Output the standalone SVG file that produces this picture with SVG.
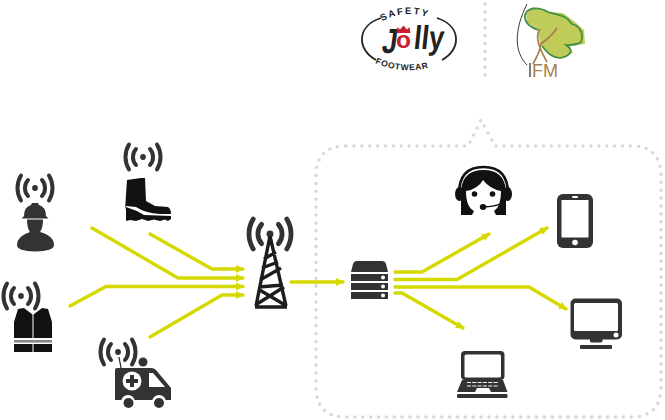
<svg xmlns="http://www.w3.org/2000/svg" width="665" height="420" viewBox="0 0 665 420">
<style>
.dots{fill:none;stroke:#d9d9d9;stroke-width:3.6;stroke-linecap:round;stroke-dasharray:0 7.9}
.link{fill:none;stroke:#d6d900;stroke-width:3.4;stroke-linecap:round;stroke-linejoin:round}
.dark{fill:#333}
.blk{fill:#111}
.wh{fill:#fff}
.sig{fill:none;stroke:#333;stroke-linecap:round}
.logo{font-family:"Liberation Sans",Arial,sans-serif;font-weight:700;fill:#222}
</style>
<defs>
<marker id="a" markerUnits="userSpaceOnUse" markerWidth="9" markerHeight="9" refX="7" refY="4.5" orient="auto"><path d="M0,0.5L8,4.500L0,8.500z" fill="#d6d900"/></marker>
<g id="signal">
<circle r="2.9" fill="#333"/>
<path class="sig" stroke-width="4" d="M-7,-8A12,12 0 0 0 -7,8M7,-8A12,12 0 0 1 7,8"/>
<path class="sig" stroke-width="4" d="M-14,-12.500A24,24 0 0 0 -14,12.500M14,-12.500A24,24 0 0 1 14,12.500"/>
</g>
</defs>
<g id="frame">
<path class="dots" d="M485,4V80"/>
<path class="dots" d="M346,146H468L481,120L495,146H631Q661,146 661,176V387Q661,417 631,417H346Q316,417 316,387V176Q316,146 346,146Z"/>
</g>
<g id="connectors">
<path class="link" marker-end="url(#a)" d="M150,234L212,269H243"/>
<path class="link" marker-end="url(#a)" d="M92,228L178,278H243"/>
<path class="link" marker-end="url(#a)" d="M70,306L106,286.500H243"/>
<path class="link" marker-end="url(#a)" d="M150,337L222,295H243"/>
<path class="link" marker-end="url(#a)" d="M291,282H343"/>
<path class="link" marker-end="url(#a)" d="M395,272H422L489,234"/>
<path class="link" marker-end="url(#a)" d="M395,279.500H457L547,228"/>
<path class="link" marker-end="url(#a)" d="M395,287H529L566,309"/>
<path class="link" marker-end="url(#a)" d="M395,293H402L463,328"/>
</g>
<g id="logo-jolly">
<path d="M381,18C356,26 357,50 376,60M437,18C462,26 461,50 442,60" fill="none" stroke="#222" stroke-width="1.800"/>
<path id="jt" d="M381,22Q409,6 438,22" fill="none"/>
<path id="jb" d="M375,63Q409,78 446,62" fill="none"/>
<text class="logo" font-size="9.500" letter-spacing="1.800"><textPath href="#jt" startOffset="1">SAFETY</textPath></text>
<text class="logo" font-size="8.500" letter-spacing="0.700"><textPath href="#jb" startOffset="0">FOOTWEAR</textPath></text>
<text transform="translate(381,53) skewX(-8)" font-family="'Liberation Sans',sans-serif" font-weight="700" font-size="35" textLength="15" lengthAdjust="spacingAndGlyphs" fill="#222">J</text>
<text x="396" y="48" font-family="'Liberation Sans',sans-serif" font-weight="700" font-size="24" textLength="15" lengthAdjust="spacingAndGlyphs" fill="#c8202c">o</text>
<path d="M396.500,33l1,-6l2.500,2.500l3.500,-4l3.500,4l2.500,-2.500l1,6z" fill="#c8202c"/>
<text transform="translate(413,49) skewX(-6)" font-family="'Liberation Sans',sans-serif" font-weight="700" font-size="33" textLength="30" lengthAdjust="spacingAndGlyphs" fill="#222">lly</text>
</g>
<g id="logo-fm">
<path d="M527,4C514,30 514,52 527,65" fill="none" stroke="#222" stroke-width="0.900"/>
<path d="M530,63V77" stroke="#222" stroke-width="1.200"/>
<path d="M526,14L533,7L548,12L563,13L575,22L584,30L585,44L570,46L573,53L560,58L550,55L540,43L538,30L527,22Z" fill="#bfcc5a"/>
<path d="M538,30C530,27 524,22 525,15C527,8 537,6 548,12C556,15 566,14 572,24C580,26 584,34 581,42C577,45 572,45 566,45C574,50 571,56 560,58C553,58 547,53 542,46" fill="none" stroke="#3f8f45" stroke-width="1.700"/>
<path d="M540,29C535,36 538,46 547,62M557,28C552,36 546,40 541,44C540,52 537,56 533,64" fill="none" stroke="#a98050" stroke-width="1.800"/>
<text x="532" y="77" font-family="'Liberation Sans',sans-serif" font-size="19" textLength="26" lengthAdjust="spacingAndGlyphs" fill="#a98050">FM</text>
</g>
<g id="worker">
<use href="#signal" x="35" y="188"/>
<path class="dark" d="M24,216Q24,207 31,205L32,203H38L39,205Q46,207 46,216L48.500,218.500H21.500Z"/>
<path class="dark" d="M27,219.500H43Q43,228 40,232Q54,236 54,245Q54,251 35,251.500Q17,251 17,245Q17,236 30,232Q27,228 27,219.500Z"/>
</g>
<g id="boot">
<use href="#signal" x="143" y="157"/>
<path class="blk" d="M127,180L141,178L145,178L146,201L155,206L168,207Q171,209 171,214L160,214Q145,213 136,207L126,206L125,210Z"/>
<path class="blk" d="M126,207Q136,210 144,215L171,216V219L168,221L165,219.500L160,221L154,219.500L148,221L142,219L136,221L130,220L126,221Z"/>
</g>
<g id="vest">
<use href="#signal" x="21" y="296"/>
<path class="blk" d="M18,309L24,308L32.500,314.500V338H14V322ZM48,309L42,308L33.500,314.500V338H52V322Z"/>
<path class="blk" d="M14,344H32.500V352H14ZM33.500,344H52V352H33.500Z"/>
<rect x="14" y="340" width="38" height="2.600" fill="#888"/>
</g>
<g id="ambulance">
<use href="#signal" x="118" y="352"/>
<path d="M119,357L121,368" stroke="#222" stroke-width="1.200"/>
<circle class="dark" cx="143" cy="362" r="4.500"/>
<path class="dark" d="M117,368H151Q154,368 156,370L171,388V400H115V370Q115,368 117,368Z"/>
<circle class="wh" cx="128" cy="402" r="7"/><circle class="wh" cx="159" cy="402" r="7"/>
<circle class="dark" cx="128.500" cy="403" r="5"/><circle class="dark" cx="159" cy="403" r="5"/>
<circle class="wh" cx="132" cy="381" r="9.500"/>
<path class="dark" d="M130,375H134V379H138V383H134V387H130V383H126V379H130Z"/>
<path class="wh" d="M149,373H153L165,387H149Z"/>
</g>
<g id="tower">
<use href="#signal" transform="translate(270,234) scale(1.200)"/>
<path d="M270,236L256,306M270,236L286,306M255,307H287M264,259L276,252M262,268L278,262M260,280L281,268M259,287L283,285M257,304L284,287M258,289L285,305" fill="none" stroke="#1d1d1d" stroke-width="3.400" stroke-linejoin="round"/>
</g>
<g id="server">
<path class="dark" d="M351,272L353,264Q354,261 357,261H382Q385,261 386,264L388,272Z"/>
<rect class="dark" x="351" y="274" width="37" height="7"/>
<rect class="dark" x="351" y="283" width="37" height="7"/>
<rect class="dark" x="351" y="292" width="37" height="7"/>
<circle class="wh" cx="383" cy="277.500" r="2"/><circle class="wh" cx="383" cy="286.500" r="2"/><circle class="wh" cx="383" cy="295.500" r="2"/>
</g>
<g id="operator">
<path class="blk" d="M461,215V190Q463,170 483.500,170Q504,170 506,190V215Z"/>
<path d="M459,194Q459,167 483.500,167Q508,167 508,194" fill="none" stroke="#111" stroke-width="2.600"/>
<ellipse class="blk" cx="459.500" cy="194" rx="4.500" ry="7"/><ellipse class="blk" cx="507.500" cy="194" rx="4.500" ry="7"/>
<path class="wh" d="M466,191Q478,189 483,180Q490,189 501,191Q501,207 494,211L496,215H472L474,211Q466,207 466,191Z"/>
<circle class="blk" cx="474.500" cy="194" r="2.800"/><circle class="blk" cx="492.500" cy="194" r="2.800"/>
<path d="M505,199Q503,206 484,207" fill="none" stroke="#111" stroke-width="1.300"/>
<ellipse class="blk" cx="483" cy="207" rx="3.200" ry="3"/>
</g>
<g id="phone">
<rect class="dark" x="557" y="194" width="36" height="54" rx="6"/>
<rect class="wh" x="561.500" y="200" width="27" height="37.500"/>
<circle class="wh" cx="575" cy="242.500" r="2.800"/>
<rect class="wh" x="572" y="196" width="6" height="2" rx="1"/>
</g>
<g id="monitor">
<rect class="dark" x="570.500" y="298.500" width="51.500" height="41" rx="5"/>
<rect class="wh" x="574" y="303" width="44" height="28" rx="1.500"/>
<circle class="wh" cx="616" cy="335" r="2.500"/>
<path class="dark" d="M590,339H602.500V341Q602.500,342.500 600,342.500H592Q590,342.500 590,341Z"/>
<rect class="dark" x="580" y="345" width="32" height="4" rx="1"/>
</g>
<g id="laptop">
<rect class="dark" x="461" y="351" width="43.500" height="29" rx="4"/>
<rect class="wh" x="464.500" y="354.500" width="36.500" height="23" rx="1.500"/>
<path class="dark" d="M462,380H503L507.500,392H491L489,388H477L475,392H457Z"/>
<path d="M467,382.500H499M467,386H499" stroke="#fff" stroke-width="1.100" stroke-dasharray="4 1.300"/>
<rect class="dark" x="457" y="394" width="50.500" height="4" rx="1"/>
</g>
</svg>
